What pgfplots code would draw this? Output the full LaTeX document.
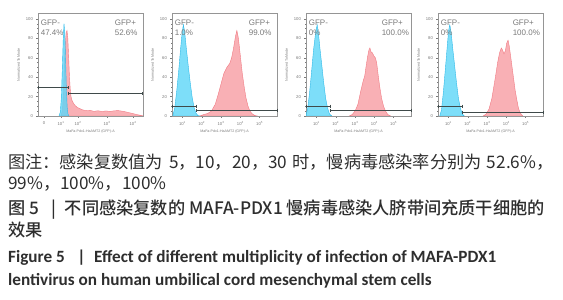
\documentclass[border=0pt]{standalone}
\usepackage{fontspec}
\usepackage{pgfplots}
\pgfplotsset{compat=1.18}
\setmainfont{Liberation Sans}
\newfontfamily\cjk{Noto Sans CJK SC}
\newfontfamily\cjkm{Noto Sans CJK SC Medium}
\newfontfamily\carl{Carlito}
\definecolor{bluef}{HTML}{5CD6F7}
\definecolor{bluee}{HTML}{2FB9E8}
\definecolor{redf}{HTML}{F8A2A8}
\definecolor{rede}{HTML}{F07A83}
\definecolor{gatec}{HTML}{3F4A4A}
\definecolor{lab}{HTML}{7A7A7A}
\definecolor{capc}{HTML}{2E2E2E}
\tikzset{gl/.style={font=\fontsize{8}{9}\selectfont, text=lab, anchor=west, inner sep=0pt}}
\pgfplotsset{
  fc/.style={
    scale only axis, width=105pt, height=103pt, anchor=south west,
    ymin=0, ymax=106, ytick={0,20,40,60,80,100}, minor y tick num=3,
    xtick pos=bottom, ytick pos=left, tick align=outside,
    axis line style={lab!80, line width=0.5pt},
    tick style={lab, line width=0.3pt},
    major tick length=1.6pt, minor tick length=0.9pt,
    /pgf/number format/assume math mode=true,
    ticklabel style={font=\fontsize{4.2}{5}\selectfont, text=lab},
    ylabel={Normalized To Mode}, xlabel={MaFa-Pdx1-HaAMT2 (GFP)-A},
    label style={font=\fontsize{3.6}{4}\selectfont, text=lab},
    ylabel style={yshift=-1pt}, xlabel style={yshift=2pt},
    clip=true,
  },
  hb/.style={draw=bluee, fill=bluef, fill opacity=0.8, line width=0.4pt},
  hr/.style={draw=rede, fill=redf, fill opacity=0.85, line width=0.4pt},
  gt/.style={gatec, line width=0.8pt, mark=|, mark size=1.6pt, mark options={line width=0.5pt}},
}
\begin{document}
\begin{tikzpicture}[x=1pt,y=1pt]
\path[use as bounding box] (0,0) rectangle (563,300);
% Panel 1
\begin{axis}[fc, at={(38pt,184pt)}, xmin=0, xmax=105,
  xtick={6,23,40,69,95},
  xticklabels={0,10\textsuperscript{1},10\textsuperscript{2},10\textsuperscript{3},10\textsuperscript{4}}]
\addplot[hr] coordinates {(23,0) (24.5,6) (25.5,25) (26.5,55) (27.5,78) (28.3,86) (29,88) (29.8,80) (30.6,62) (31.4,42) (32.2,28) (33,20) (34,16) (35.5,13) (37,11) (39,9) (41,8) (44,6.5) (48,5.5) (52,5.8) (56,4.8) (60,5.4) (64,4.6) (68,5.2) (72,4.7) (76,5.3) (80,5.6) (84,5) (88,4.2) (92,3.2) (96,2.2) (100,1.2) (104,0.4) (105,0)} \closedcycle;
\addplot[hb] coordinates {(21,0) (22.3,4) (23.3,18) (24.3,48) (25.2,78) (26,95) (26.8,86) (27.6,58) (28.4,28) (29.2,9) (30,2) (31,0)} \closedcycle;
\addplot[gt] coordinates {(0.3,29) (30,29)};
\addplot[gt] coordinates {(30,23) (104.7,23)};
\node[gl] at (rel axis cs:0.025,0.91) {GFP-};
\node[gl] at (rel axis cs:0.025,0.805) {47.4\%};
\node[gl] at (rel axis cs:0.73,0.91) {GFP+};
\node[gl] at (rel axis cs:0.73,0.805) {52.6\%};
\end{axis}
% Panel 2
\begin{axis}[fc, at={(172pt,184pt)}, xmin=0.46, xmax=5.9,
  xtick={1,2,3,4,5},
  xticklabels={10\textsuperscript{1},10\textsuperscript{2},10\textsuperscript{3},10\textsuperscript{4},10\textsuperscript{5}}]
\addplot[hr] coordinates {(1.9,0) (2.1,1.5) (2.3,2.5) (2.5,5) (2.7,12) (2.85,22) (3.0,33) (3.15,44) (3.3,50) (3.45,54) (3.55,60) (3.65,70) (3.75,82) (3.82,88) (3.9,80) (4.0,62) (4.1,44) (4.2,30) (4.3,18) (4.4,10) (4.5,5) (4.6,2.5) (4.75,0.5) (4.9,0)} \closedcycle;
\addplot[hb] coordinates {(0.5,0) (0.6,8) (0.7,25) (0.8,45) (0.9,68) (0.98,85) (1.05,94) (1.12,86) (1.2,70) (1.3,52) (1.4,35) (1.5,20) (1.6,9) (1.7,3) (1.8,0.5) (1.9,0)} \closedcycle;
\addplot[gt] coordinates {(0.47,10) (1.7,10)};
\addplot[gt] coordinates {(1.7,6) (5.89,6)};
\node[gl] at (rel axis cs:0.025,0.91) {GFP-};
\node[gl] at (rel axis cs:0.025,0.805) {1.0\%};
\node[gl] at (rel axis cs:0.73,0.91) {GFP+};
\node[gl] at (rel axis cs:0.73,0.805) {99.0\%};
\end{axis}
% Panel 3
\begin{axis}[fc, at={(306pt,184pt)}, xmin=0.46, xmax=5.9,
  xtick={1,2,3,4,5},
  xticklabels={10\textsuperscript{1},10\textsuperscript{2},10\textsuperscript{3},10\textsuperscript{4},10\textsuperscript{5}}]
\addplot[hr] coordinates {(2.7,0) (2.85,1.5) (3.0,5) (3.15,12) (3.3,26) (3.42,36) (3.5,41) (3.58,52) (3.66,62) (3.72,68) (3.77,70) (3.83,66) (3.9,65) (3.97,62) (4.05,60) (4.12,55) (4.2,42) (4.28,30) (4.38,18) (4.48,10) (4.58,5) (4.7,1.5) (4.85,0)} \closedcycle;
\addplot[hb] coordinates {(0.45,0) (0.55,8) (0.65,25) (0.75,46) (0.85,68) (0.96,86) (1.04,94) (1.1,86) (1.18,70) (1.28,52) (1.38,34) (1.48,18) (1.58,8) (1.68,2) (1.8,0)} \closedcycle;
\addplot[gt] coordinates {(0.47,10) (1.7,10)};
\addplot[gt] coordinates {(1.7,6) (5.89,6)};
\node[gl] at (rel axis cs:0.025,0.91) {GFP-};
\node[gl] at (rel axis cs:0.025,0.805) {0\%};
\node[gl] at (rel axis cs:0.72,0.91) {GFP+};
\node[gl] at (rel axis cs:0.72,0.805) {100.0\%};
\end{axis}
% Panel 4
\begin{axis}[fc, at={(438pt,184pt)}, xmin=0.46, xmax=5.9,
  xtick={1,2,3,4,5},
  xticklabels={10\textsuperscript{1},10\textsuperscript{2},10\textsuperscript{3},10\textsuperscript{4},10\textsuperscript{5}}]
\addplot[hr] coordinates {(2.8,0) (2.95,2) (3.1,7) (3.25,18) (3.35,30) (3.45,42) (3.55,55) (3.65,65) (3.74,70) (3.8,68) (3.88,64) (3.95,67) (4.02,75) (4.09,78) (4.15,72) (4.22,62) (4.3,50) (4.38,38) (4.46,26) (4.55,16) (4.63,8) (4.72,3) (4.85,0)} \closedcycle;
\addplot[hb] coordinates {(0.55,0) (0.64,6) (0.74,25) (0.84,48) (0.94,72) (1.01,88) (1.07,94) (1.14,86) (1.22,70) (1.32,52) (1.42,34) (1.52,18) (1.62,8) (1.72,2) (1.82,0)} \closedcycle;
\addplot[gt] coordinates {(0.47,10) (1.7,10)};
\addplot[gt] coordinates {(1.7,4) (5.89,4)};
\node[gl] at (rel axis cs:0.025,0.91) {GFP-};
\node[gl] at (rel axis cs:0.025,0.805) {0\%};
\node[gl] at (rel axis cs:0.71,0.91) {GFP+};
\node[gl] at (rel axis cs:0.71,0.805) {100.0\%};
\end{axis}
% Captions
\node[anchor=base west, inner sep=0pt, text=capc, font=\cjk\fontsize{17.2}{19}\selectfont] at (8,131.8) {图注：感染复数值为\hspace{0.35em}5，10，20，30\hspace{0.3em}时，慢病毒感染率分别为\hspace{0.3em}52.6\%，};
\node[anchor=base west, inner sep=0pt, text=capc, font=\cjk\fontsize{17.2}{19}\selectfont] at (8,110.8) {99\%，100\%，100\%};
\node[anchor=base west, inner sep=0pt, text=capc, font=\cjkm\fontsize{17.2}{19}\selectfont] at (8,85.5) {图 5 \enspace|\enspace 不同感染复数的 MAFA-PDX1 慢病毒感染人脐带间充质干细胞的};
\node[anchor=base west, inner sep=0pt, text=capc, font=\cjkm\fontsize{17.2}{19}\selectfont] at (8,63.5) {效果};
\node[anchor=base west, inner sep=0pt, text=capc, font=\carl\bfseries\fontsize{17.2}{19}\selectfont] at (8,37.6) {Figure 5 \enspace|\enspace Effect of different multiplicity of infection of MAFA-PDX1};
\node[anchor=base west, inner sep=0pt, text=capc, font=\carl\bfseries\fontsize{17.2}{19}\selectfont] at (8,14.5) {lentivirus on human umbilical cord mesenchymal stem cells};
\end{tikzpicture}
\end{document}
